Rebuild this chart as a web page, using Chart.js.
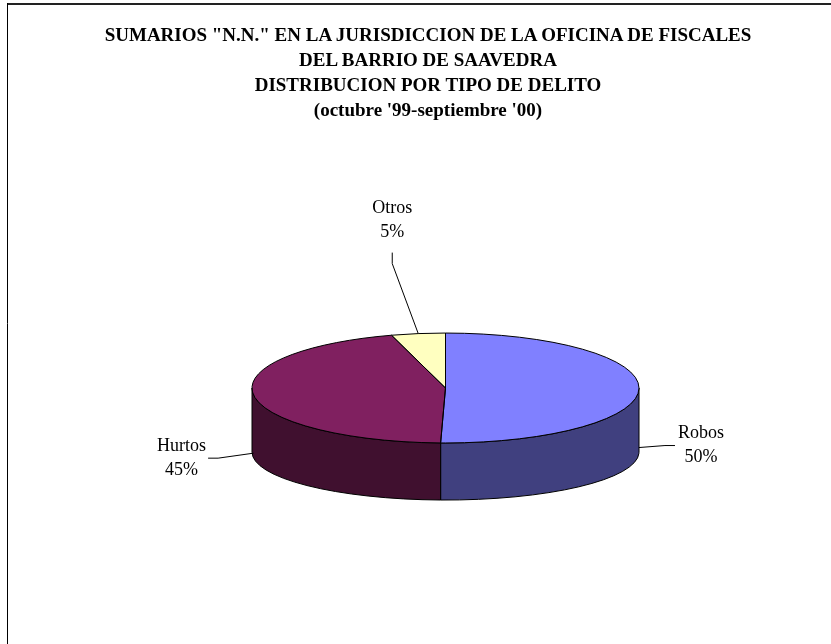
<!DOCTYPE html>
<html lang="es">
<head>
<meta charset="utf-8">
<title>Sumarios N.N. - Saavedra</title>
<script src="https://cdn.jsdelivr.net/npm/chart.js@4.4.1/dist/chart.umd.min.js"></script>
<style>
  html, body { margin: 0; padding: 0; background: #fff; }
  #wrap { position: relative; width: 831px; height: 644px; }
  #title {
    position: absolute; top: 22px; left: 25px; right: 0;
    text-align: center; color: #000;
    font: bold 19px "Liberation Serif", "Times New Roman", serif;
    line-height: 25px;
  }
</style>
</head>
<body>
<div id="wrap">
  <canvas id="chartResults"></canvas>
  <div id="title"></div>
</div>
<script>
'use strict';

// Chart data.
const titleLines = [
  'SUMARIOS "N.N." EN LA JURISDICCION DE LA OFICINA DE FISCALES',
  'DEL BARRIO DE SAAVEDRA',
  'DISTRIBUCION POR TIPO DE DELITO',
  '(octubre \'99-septiembre \'00)'
];
const categories = ['Robos', 'Hurtos', 'Otros'];
const percentValues = [50.4, 45.1, 4.5];

// Colours: top face and darker side wall of each slice.
const topColors = ['#8080ff', '#802060', '#ffffc0'];
const sideColors = ['#40407f', '#40102f', '#80805f'];

// 3D look of the pie, relative to its radius.
const tilt = 0.284;        // vertical squash of the top face
const depthRatio = 0.331;  // side wall height
const bottomTilt = 0.248;  // squash of the bottom edge (perspective)

// Where each label sits, measured from its leader start point.
const labelShift = [[62, -2], [-72, 5], [-26, -113]];
const labelFont = '18px "Liberation Serif", "Times New Roman", serif';
const lineGap = 24;

// Title as plain text above the canvas.
const titleBox = document.getElementById('title');
titleLines.forEach(line => {
  const div = document.createElement('div');
  div.textContent = line;
  titleBox.appendChild(div);
});

function pieGeometry(arc) {
  const r = arc.outerRadius;
  return { x: arc.x, y: arc.y, r: r, ry: r * tilt, depth: r * depthRatio, ryB: r * bottomTilt };
}

// Only the part of a slice between 0 and PI faces the viewer.
function frontPart(a1, a2) {
  const s = Math.max(a1, 0);
  const e = Math.min(a2, Math.PI);
  return s < e ? [s, e] : null;
}

const pie3d = {
  id: 'pie3d',
  beforeDraw(chart) {
    // Frame of the chart sheet.
    const ctx = chart.ctx;
    ctx.save();
    ctx.strokeStyle = '#222';
    ctx.lineWidth = 2;
    ctx.beginPath();
    ctx.moveTo(7, 4);
    ctx.lineTo(chart.width, 4);
    ctx.stroke();
    ctx.strokeStyle = '#000';
    ctx.lineWidth = 1;
    ctx.beginPath();
    ctx.moveTo(7.5, 3);
    ctx.lineTo(7.5, chart.height);
    ctx.stroke();
    ctx.restore();
  },
  beforeDatasetsDraw(chart) {
    const ctx = chart.ctx;
    const arcs = chart.getDatasetMeta(0).data;

    // Side walls first.
    ctx.save();
    ctx.lineWidth = 1;
    ctx.strokeStyle = '#000';
    ctx.lineJoin = 'round';
    arcs.forEach((arc, i) => {
      const g = pieGeometry(arc);
      const part = frontPart(arc.startAngle, arc.endAngle);
      if (!part) return;
      ctx.beginPath();
      ctx.ellipse(g.x, g.y, g.r, g.ry, 0, part[0], part[1]);
      ctx.ellipse(g.x, g.y + g.depth, g.r, g.ryB, 0, part[1], part[0], true);
      ctx.closePath();
      ctx.fillStyle = sideColors[i];
      ctx.fill();
      ctx.stroke();
    });
    ctx.restore();

    // Squash the slices Chart.js is about to draw.
    const g = pieGeometry(arcs[0]);
    ctx.save();
    ctx.translate(g.x, g.y);
    ctx.scale(1, tilt);
    ctx.translate(-g.x, -g.y);
  },
  afterDatasetsDraw(chart) {
    const ctx = chart.ctx;
    ctx.restore();
    const arcs = chart.getDatasetMeta(0).data;

    // Outline of the top face.
    ctx.save();
    ctx.lineWidth = 1;
    ctx.strokeStyle = '#000';
    ctx.lineJoin = 'round';
    arcs.forEach(arc => {
      const g = pieGeometry(arc);
      ctx.beginPath();
      ctx.moveTo(g.x, g.y);
      ctx.ellipse(g.x, g.y, g.r, g.ry, 0, arc.startAngle, arc.endAngle);
      ctx.closePath();
      ctx.stroke();
    });
    ctx.restore();

    drawLabels(chart);
  }
};

function drawLabels(chart) {
  const ctx = chart.ctx;
  const arcs = chart.getDatasetMeta(0).data;
  const total = percentValues.reduce((a, b) => a + b, 0);

  ctx.save();
  ctx.font = labelFont;
  ctx.fillStyle = '#000';
  ctx.strokeStyle = '#000';
  ctx.lineWidth = 1;
  ctx.textAlign = 'center';
  ctx.textBaseline = 'middle';

  arcs.forEach((arc, i) => {
    const g = pieGeometry(arc);
    const mid = (arc.startAngle + arc.endAngle) / 2;
    const sin = Math.sin(mid);
    const cos = Math.cos(mid);
    const ax = g.x + g.r * cos;
    let ay = g.y + g.ry * sin;
    if (sin > 0) {
      // Front slice: leader starts low on the side wall.
      ay += (g.depth + (g.ryB - g.ry) * sin) * 0.92;
    }

    const lines = [categories[i], Math.round(percentValues[i] / total * 100) + '%'];
    const [dx, dy] = labelShift[i];
    const cx = ax + dx;
    const cy = ay + dy;
    const halfW = Math.max(...lines.map(t => ctx.measureText(t).width)) / 2;

    let px, py, ex, ey;
    if (Math.abs(dy) > Math.abs(dx)) {
      px = cx;
      py = dy < 0 ? cy + lineGap / 2 + 20 : cy - lineGap / 2 - 20;
      ex = px;
      ey = py + 11 * Math.sign(ay - py);
    } else {
      px = dx > 0 ? cx - halfW - 3 : cx + halfW + 2;
      py = cy;
      ex = px + 10 * Math.sign(ax - px);
      ey = py;
    }
    ctx.beginPath();
    ctx.moveTo(ax, ay);
    ctx.lineTo(ex, ey);
    ctx.lineTo(px, py);
    ctx.stroke();

    ctx.fillText(lines[0], cx, cy - lineGap / 2);
    ctx.fillText(lines[1], cx, cy + lineGap / 2);
  });
  ctx.restore();
}

const data = {
  labels: categories,
  datasets: [{
    data: percentValues,
    backgroundColor: topColors,
    borderWidth: 0
  }]
};

const config = {
  type: 'pie',
  data: data,
  options: {
    responsive: true,
    maintainAspectRatio: false,
    animation: false,
    events: [],
    radius: 193.5,
    layout: {
      padding: { left: 60, right: 0, top: 132, bottom: 0 }
    },
    plugins: {
      legend: { display: false },
      tooltip: { enabled: false }
    }
  },
  plugins: [pie3d]
};

const chartResults = new Chart(document.getElementById('chartResults'), config);
</script>
</body>
</html>
